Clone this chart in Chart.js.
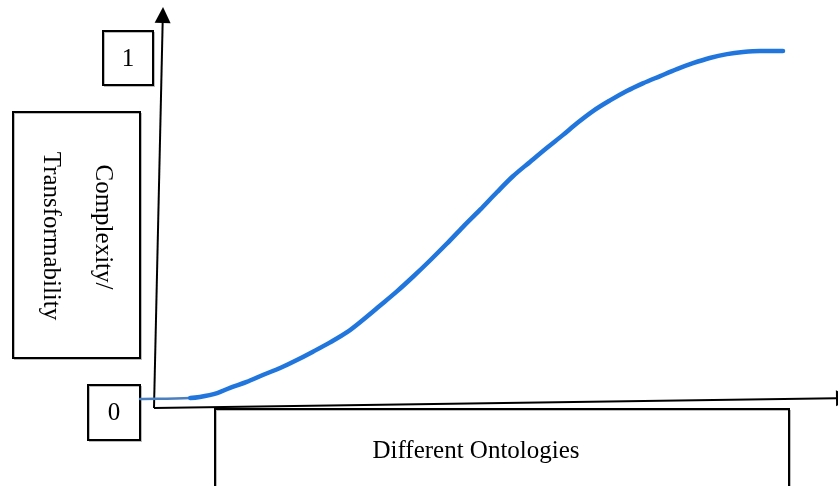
<!DOCTYPE html>
<html>
<head>
<meta charset="utf-8">
<title>Complexity / Transformability</title>
<script src="https://cdn.jsdelivr.net/npm/chart.js@4.4.1/dist/chart.umd.min.js"></script>
<style>
  html, body { margin: 0; padding: 0; background: #fff; }
  #wrap { position: relative; width: 838px; height: 486px; }
</style>
</head>
<body>
<div id="wrap"><canvas id="curveChart"></canvas></div>
<script>
// data (x: position along the ontologies axis 0-100, y: 0-1)
const ontologyX = [0, 7.8, 9.3, 12.0, 14.0, 16.6, 19.1, 21.8, 24.4, 26.9, 29.5, 32.2, 34.7, 37.3,
  40.0, 42.5, 45.1, 47.7, 50.2, 52.9, 55.5, 58.0, 60.7, 63.3, 65.8, 68.0, 70.5, 73.1, 75.7,
  78.2, 80.9, 83.5, 86.0, 88.6, 91.3, 93.8, 96.4, 100];
const complexityY = [0, 0.003, 0.006, 0.017, 0.032, 0.049, 0.069, 0.089, 0.112, 0.136, 0.162, 0.192,
  0.228, 0.268, 0.310, 0.352, 0.398, 0.446, 0.494, 0.544, 0.594, 0.640, 0.682, 0.722, 0.759,
  0.793, 0.828, 0.858, 0.885, 0.907, 0.928, 0.948, 0.965, 0.980, 0.991, 0.997, 1.0, 1.0];
const tickLabels = ['0', '1'];
const yAxisTitle = ['Complexity/', 'Transformability'];
const xAxisTitle = 'Different Ontologies';

const blue = '#2176dd';
const thinBlue = '#4a7fc0';
const serif = '25px "Liberation Serif", "DejaVu Serif", serif';

function box(ctx, x1, y1, x2, y2) {
    ctx.fillStyle = '#fff';
    ctx.fillRect(x1, y1, x2 - x1, y2 - y1);
    ctx.strokeStyle = '#bbb';
    ctx.lineWidth = 1;
    ctx.strokeRect(x1 + 1.5, y1 + 1.5, x2 - x1, y2 - y1);
    ctx.strokeStyle = '#000';
    ctx.lineWidth = 2;
    ctx.strokeRect(x1, y1, x2 - x1, y2 - y1);
}

function arrow(ctx, x1, y1, x2, y2) {
    // line from (x1,y1) to tip (x2,y2) with a filled head
    const a = Math.atan2(y2 - y1, x2 - x1);
    const len = 16, half = 8;
    const bx = x2 - len * Math.cos(a), by = y2 - len * Math.sin(a);
    ctx.strokeStyle = '#000';
    ctx.lineWidth = 2;
    ctx.beginPath();
    ctx.moveTo(x1, y1);
    ctx.lineTo(bx, by);
    ctx.stroke();
    ctx.fillStyle = '#000';
    ctx.beginPath();
    ctx.moveTo(x2, y2);
    ctx.lineTo(bx + half * Math.sin(a), by - half * Math.cos(a));
    ctx.lineTo(bx - half * Math.sin(a), by + half * Math.cos(a));
    ctx.closePath();
    ctx.fill();
}

const figurePlugin = {
    id: 'figure',
    beforeDatasetsDraw(chart) {
        const ctx = chart.ctx;
        const xs = chart.scales.x, ys = chart.scales.y;
        const y0 = ys.getPixelForValue(0), y1 = ys.getPixelForValue(1);
        const left = xs.getPixelForValue(0);
        ctx.save();

        // axes (slightly hand-drawn slant)
        const ox = left + 14, oy = y0 + 9;
        arrow(ctx, ox, oy, ox + 9, 7);
        arrow(ctx, ox, oy, 852, y0 - 1);

        // tick boxes
        ctx.font = serif;
        ctx.textAlign = 'center';
        ctx.textBaseline = 'middle';
        box(ctx, left - 52, y0 - 14, left, y0 + 41);
        ctx.fillStyle = '#000';
        ctx.fillText(tickLabels[0], left - 26, y0 + 14);
        box(ctx, left - 37, y1 - 20, left + 13, y1 + 34);
        ctx.fillStyle = '#000';
        ctx.fillText(tickLabels[1], left - 12, y1 + 8);

        // y title box, text rotated clockwise
        box(ctx, 13, 112, left, 358);
        ctx.save();
        ctx.translate((13 + left) / 2, 235);
        ctx.rotate(Math.PI / 2);
        ctx.fillStyle = '#000';
        ctx.fillText(yAxisTitle[0], -8, -26);
        ctx.fillText(yAxisTitle[1], 1, 26);
        ctx.restore();

        // x title box (runs off the bottom)
        box(ctx, 215, oy + 1, 789, 520);
        ctx.fillStyle = '#000';
        ctx.fillText(xAxisTitle, 476, 451);

        ctx.restore();
    }
};

new Chart(document.getElementById('curveChart').getContext('2d'), {
    type: 'line',
    data: {
        datasets: [{
            data: ontologyX.map((x, i) => ({ x: x, y: complexityY[i] })),
            borderColor: blue,
            borderWidth: 4.5,
            borderCapStyle: 'round',
            pointRadius: 0,
            cubicInterpolationMode: 'monotone',
            fill: false,
            clip: false,
            segment: {
                borderColor: c => c.p0DataIndex === 0 ? thinBlue : blue,
                borderWidth: c => c.p0DataIndex === 0 ? 2.5 : 4.5
            }
        }]
    },
    options: {
        responsive: true,
        maintainAspectRatio: false,
        animation: false,
        layout: { padding: { left: 140, right: 55, top: 51, bottom: 87 } },
        scales: {
            x: { type: 'linear', min: 0, max: 100, display: false },
            y: { min: 0, max: 1, display: false }
        },
        plugins: {
            legend: { display: false },
            tooltip: { enabled: false }
        }
    },
    plugins: [figurePlugin]
});
</script>
</body>
</html>
